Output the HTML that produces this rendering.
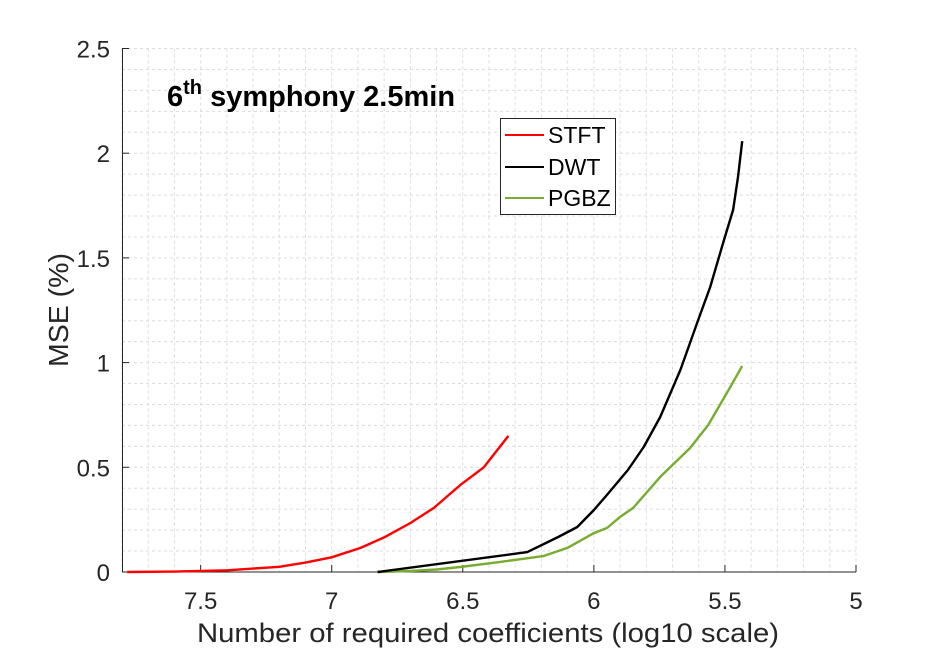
<!DOCTYPE html>
<html><head><meta charset="utf-8"><style>
html,body{margin:0;padding:0;background:#fff;}
svg{display:block;font-family:"Liberation Sans",Arial,sans-serif;}
</style></head><body>
<svg id="chart" width="942" height="650" viewBox="0 0 942 650" xmlns="http://www.w3.org/2000/svg">
<rect width="942" height="650" fill="#fff"/>
<g id="grid"></g>
<g id="axes"></g>
<g id="series"></g>
<text x="167" y="106" font-size="29" font-weight="bold" fill="#000">6<tspan dy="-12" font-size="20">th</tspan><tspan dy="12"> symphony 2.5min</tspan></text>
<text x="488" y="642" font-size="27" fill="#262626" text-anchor="middle" textLength="582" lengthAdjust="spacingAndGlyphs">Number of required coefficients (log10 scale)</text>
<text transform="translate(68,310) rotate(-90)" font-size="28" fill="#262626" text-anchor="middle" textLength="114" lengthAdjust="spacingAndGlyphs">MSE (%)</text>
<g>
<rect x="500.5" y="118.5" width="115" height="96" fill="#fff" stroke="#262626" stroke-width="1"/>
<g><line x1="505" y1="135" x2="544" y2="135" stroke="#ff0000" stroke-width="2"/><text x="548" y="143" font-size="23" fill="#000">STFT</text></g>
<g><line x1="505" y1="167" x2="544" y2="167" stroke="#000" stroke-width="2"/><text x="548" y="175" font-size="23" fill="#000">DWT</text></g>
<g><line x1="505" y1="198" x2="544" y2="198" stroke="#77ac30" stroke-width="2"/><text x="548" y="206" font-size="23" fill="#000">PGBZ</text></g>
</g>
</svg>
<script>
const xTicks = [7.5, 7, 6.5, 6, 5.5, 5];
const xTickLabels = ["7.5", "7", "6.5", "6", "5.5", "5"];
const yTicks = [0, 0.5, 1, 1.5, 2, 2.5];
const yTickLabels = ["0", "0.5", "1", "1.5", "2", "2.5"];
const stftX = [7.78, 7.6, 7.4, 7.2, 7.1, 7.0, 6.89, 6.8, 6.70, 6.61, 6.51, 6.42, 6.326];
const stftY = [0, 0.002, 0.008, 0.025, 0.045, 0.07, 0.115, 0.165, 0.234, 0.306, 0.415, 0.50, 0.65];
const dwtX = [6.825, 6.254, 6.136, 6.063, 6.0, 5.95, 5.87, 5.81, 5.747, 5.67, 5.66, 5.606, 5.556, 5.507, 5.469, 5.45, 5.434];
const dwtY = [0, 0.095, 0.167, 0.215, 0.296, 0.368, 0.487, 0.597, 0.74, 0.965, 1.0, 1.189, 1.361, 1.571, 1.729, 1.886, 2.058];
const pgbzX = [6.825, 6.7, 6.6, 6.51, 6.357, 6.193, 6.101, 6.0, 5.95, 5.90, 5.85, 5.747, 5.633, 5.564, 5.49, 5.434];
const pgbzY = [0, 0.005, 0.012, 0.024, 0.048, 0.076, 0.115, 0.186, 0.21, 0.263, 0.306, 0.454, 0.592, 0.702, 0.86, 0.984];

const X0 = 7.8, X1 = 5, PL = 122, PR = 856, PT = 48.5, PB = 572;
function xs(v){ return PL + (X0 - v) / (X0 - X1) * (PR - PL); }
function ys(v){ return PB - v / 2.5 * (PB - PT); }
const NS = "http://www.w3.org/2000/svg";
function mk(tag, attrs, parent){ const e = document.createElementNS(NS, tag); for (const k in attrs) e.setAttribute(k, attrs[k]); parent.appendChild(e); return e; }
const grid = document.getElementById('grid'), axes = document.getElementById('axes'), series = document.getElementById('series');
for (let i = 0; i <= 28; i++) {
  const v = 5 + i * 0.1, x = xs(v);
  const l = mk('line', {x1:x, y1:PT, x2:x, y2:PB, stroke: '#dcdcdc', 'stroke-width':1, 'stroke-dasharray':'3,3'}, grid);
  
  
}
for (let i = 0; i <= 25; i++) {
  const y = ys(i * 0.1);
  const l = mk('line', {x1:PL, y1:y, x2:PR, y2:y, stroke: '#dcdcdc', 'stroke-width':1, 'stroke-dasharray':'3,3'}, grid);
  
  
}
const xa = mk('line', {x1:PL, y1:PB, x2:PR, y2:PB, stroke:'#262626', 'stroke-width':1}, axes);


const ya = mk('line', {x1:PL+0.5, y1:PT, x2:PL+0.5, y2:PB, stroke:'#262626', 'stroke-width':1}, axes);


xTicks.forEach((v, i) => {
  const x = xs(v);
  mk('line', {x1:x, y1:PB, x2:x, y2:PB-7, stroke:'#262626', 'stroke-width':1}, axes);
  const t = mk('text', {x:x, y:PB+37, 'font-size':24, fill:'#262626', 'text-anchor':'middle'}, axes);
  t.textContent = xTickLabels[i];
  
  
});
yTicks.forEach((v, i) => {
  const y = ys(v);
  mk('line', {x1:PL, y1:y, x2:PL+7, y2:y, stroke:'#262626', 'stroke-width':1}, axes);
  const t = mk('text', {x:PL-12, y:y+9, 'font-size':24, fill:'#262626', 'text-anchor':'end'}, axes);
  t.textContent = yTickLabels[i];
  
  
});
function line(xsArr, ysArr, color, name){
  const d = xsArr.map((v, i) => (i ? 'L' : 'M') + xs(v).toFixed(1) + ',' + ys(ysArr[i]).toFixed(1)).join(' ');
  const p = mk('path', {d:d, fill:'none', stroke:color, 'stroke-width':2.4, 'stroke-linejoin':'round'}, series);
  
  
}
line(stftX, stftY, '#ff0000', 'stft-line');
line(pgbzX, pgbzY, '#77ac30', 'pgbz-line');
line(dwtX, dwtY, '#000000', 'dwt-line');
</script>
</body></html>
